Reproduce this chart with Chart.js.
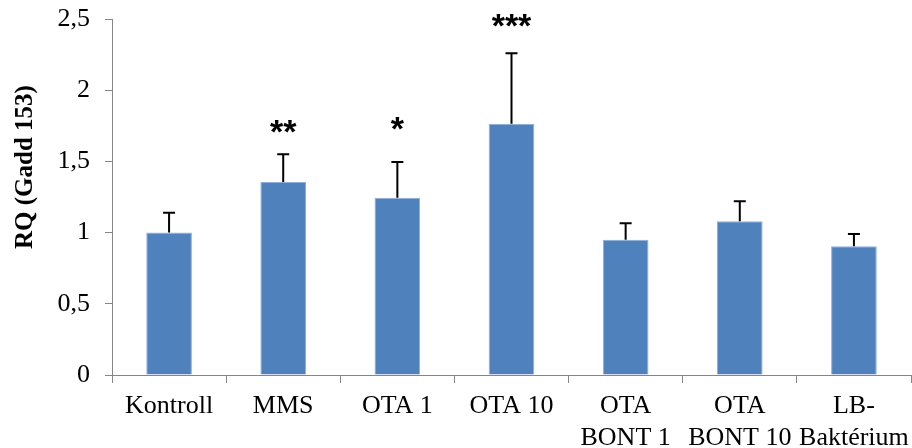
<!DOCTYPE html>
<html>
<head>
<meta charset="utf-8">
<script src="https://cdn.jsdelivr.net/npm/chart.js@4.4.0/dist/chart.umd.min.js"></script>
<style>
    html, body { margin: 0; padding: 0; background: #fff; }
    #wrap { width: 912px; height: 448px; }
</style>
</head>
<body>
<div id="wrap"><canvas id="grafico"></canvas></div>
<script>
const labels = [
    'Kontroll',
    'MMS',
    'OTA 1',
    'OTA 10',
    ['OTA', 'BONT 1'],
    ['OTA', 'BONT 10'],
    ['LB-', 'Baktérium'],
];

// RQ values and upper error (mean + sd)
const rq = [1.0, 1.355, 1.245, 1.765, 0.95, 1.08, 0.905];
const rqHigh = [1.14, 1.55, 1.495, 2.26, 1.065, 1.22, 0.99];

// significance stars and the value height they sit at
const stars = ['', '**', '*', '***', '', '', ''];
const starAt = [0, 1.73, 1.75, 2.47, 0, 0, 0];

const yTicks = [0, 0.5, 1, 1.5, 2, 2.5];
const yTitle = 'RQ (Gadd 153)';

const serif = '"Liberation Serif", "Times New Roman", serif';

// error bars, stars and the y title (sits above centre like in the original)
const extras = {
    id: 'extras',
    afterDatasetsDraw(chart) {
        const ctx = chart.ctx;
        const x = chart.scales.x;
        const y = chart.scales.y;
        ctx.save();
        ctx.strokeStyle = '#000';
        ctx.lineWidth = 2;
        for (let i = 0; i < rq.length; i++) {
            const px = x.getPixelForValue(i);
            const y0 = y.getPixelForValue(rq[i]);
            const y1 = y.getPixelForValue(rqHigh[i]);
            ctx.beginPath();
            ctx.moveTo(px, y0);
            ctx.lineTo(px, y1);
            ctx.moveTo(px - 6, y1);
            ctx.lineTo(px + 6, y1);
            ctx.stroke();
        }
        ctx.fillStyle = '#000';
        ctx.font = 'bold 34px "Liberation Sans", Arial, sans-serif';
        ctx.textAlign = 'center';
        ctx.textBaseline = 'alphabetic';
        for (let i = 0; i < stars.length; i++) {
            if (!stars[i]) continue;
            const px = x.getPixelForValue(i);
            const py = y.getPixelForValue(starAt[i]);
            ctx.fillText(stars[i], px, py + 14);
        }

        // y title
        ctx.translate(26, y.getPixelForValue(1.46));
        ctx.rotate(-Math.PI / 2);
        ctx.font = 'bold 25px ' + serif;
        ctx.textBaseline = 'middle';
        ctx.fillText(yTitle, 0, 0);
        ctx.restore();
    }
};

const data = {
    labels: labels,
    datasets: [{
        data: rq,
        backgroundColor: '#4f81bd',
        borderColor: '#8eaedb',
        borderWidth: 1,
        categoryPercentage: 1,
        barPercentage: 0.4,
    }]
};

const config = {
    type: 'bar',
    data: data,
    plugins: [extras],
    options: {
        responsive: true,
        maintainAspectRatio: false,
        animation: false,
        layout: { padding: { top: 19, right: 1, left: 0, bottom: 0 } },
        plugins: {
            legend: { display: false },
            tooltip: { enabled: false },
        },
        scales: {
            x: {
                grid: {
                    offset: true,
                    drawOnChartArea: false,
                    tickLength: 8,
                    color: '#868686',
                },
                border: { color: '#868686', width: 1 },
                ticks: {
                    color: '#000',
                    font: { family: serif, size: 26 },
                    padding: 8,
                    maxRotation: 0,
                    autoSkip: false,
                },
                afterFit(scale) {
                    scale.height = 73;
                    scale.paddingLeft = 0;
                    scale.paddingRight = 0;
                },
            },
            y: {
                min: 0,
                max: 2.5,
                afterBuildTicks(scale) {
                    scale.ticks = yTicks.map(v => ({ value: v }));
                },
                grid: {
                    drawOnChartArea: false,
                    tickLength: 7,
                    color: '#868686',
                },
                border: { color: '#868686', width: 1 },
                ticks: {
                    color: '#000',
                    font: { family: serif, size: 26 },
                    padding: 15,
                    callback: v => String(v).replace('.', ','),
                },
                afterFit(scale) {
                    scale.width = 112;
                    scale.paddingTop = 0;
                    scale.paddingBottom = 0;
                },
            },
        },
    },
};

new Chart(document.getElementById('grafico'), config);
</script>
</body>
</html>
